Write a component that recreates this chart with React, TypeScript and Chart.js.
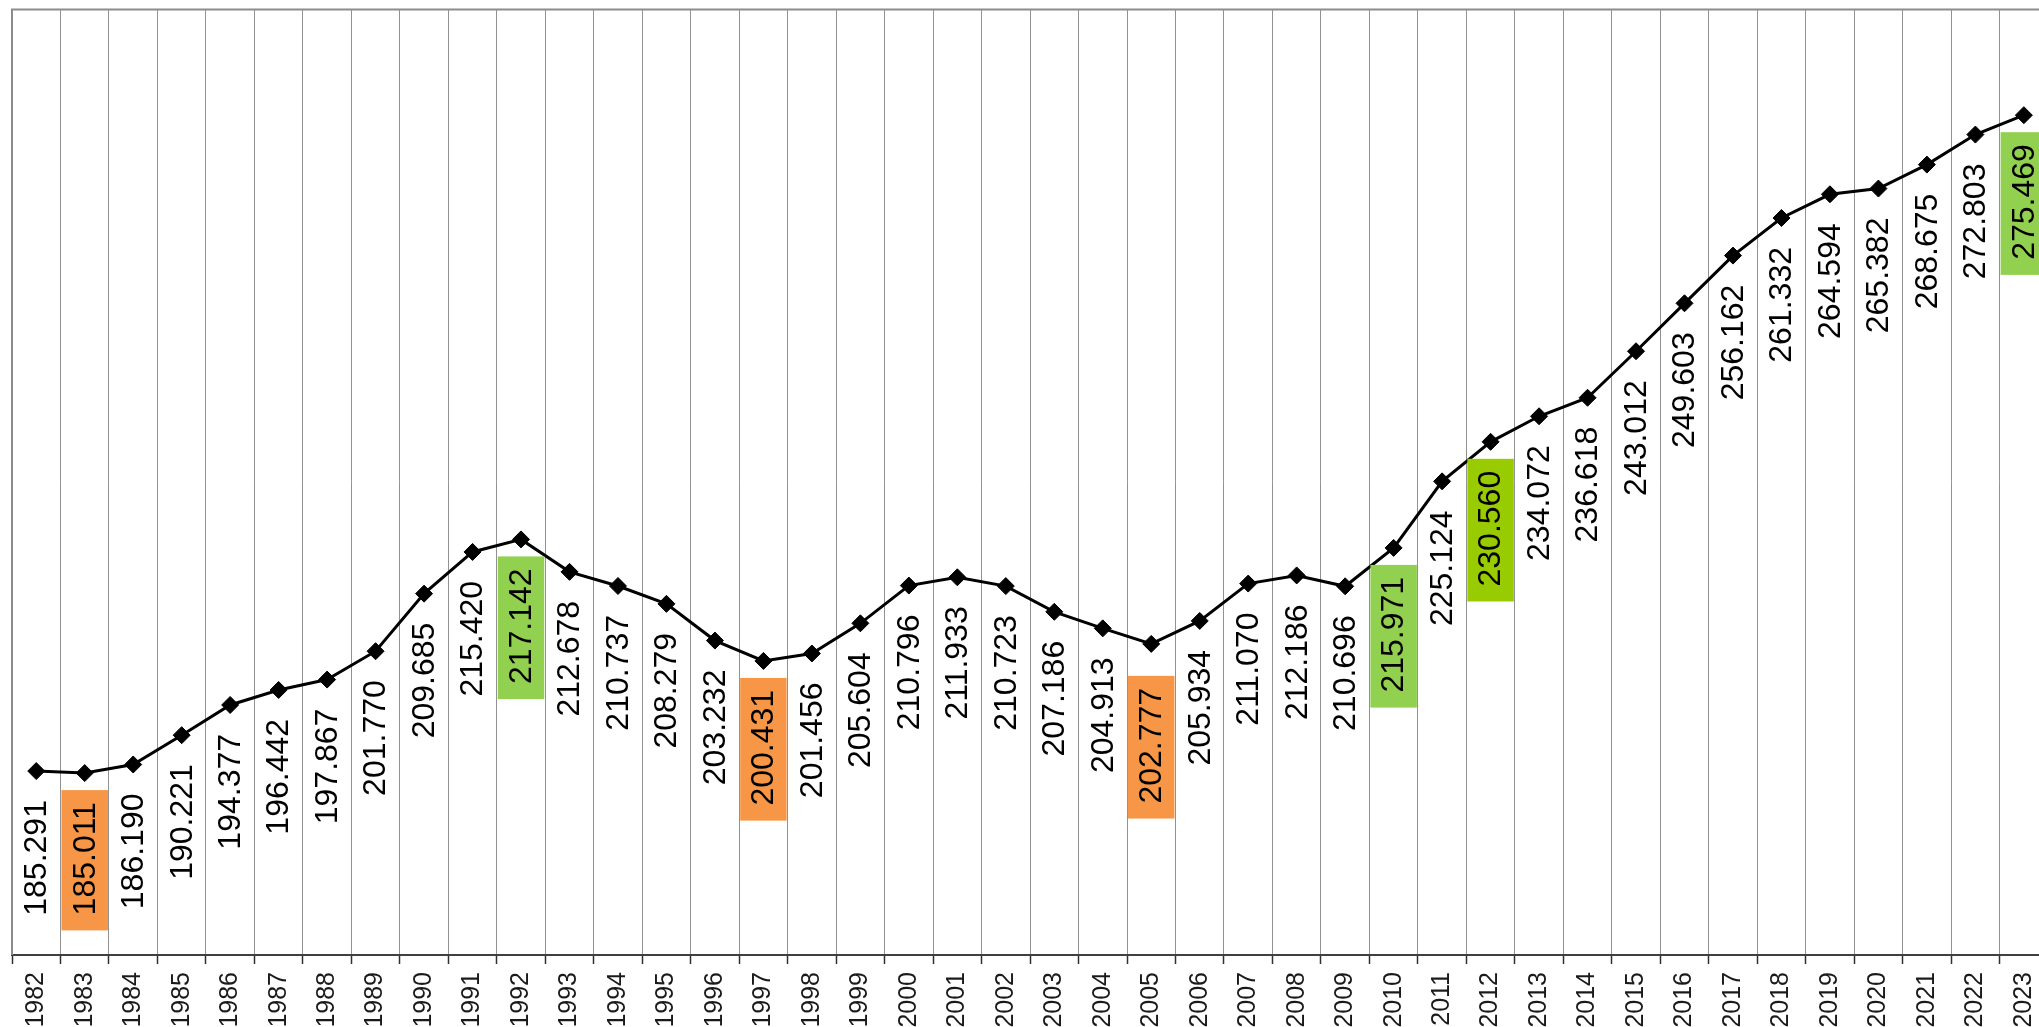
import React, { useEffect, useRef } from "react";
import { Chart, registerables } from "chart.js";

Chart.register(...registerables);

const years = [
  "1982", "1983", "1984", "1985", "1986", "1987", "1988", "1989", "1990", "1991",
  "1992", "1993", "1994", "1995", "1996", "1997", "1998", "1999", "2000", "2001",
  "2002", "2003", "2004", "2005", "2006", "2007", "2008", "2009", "2010", "2011",
  "2012", "2013", "2014", "2015", "2016", "2017", "2018", "2019", "2020", "2021",
  "2022", "2023",
];

const values = [
  185.291, 185.011, 186.19, 190.221, 194.377, 196.442, 197.867, 201.77, 209.685, 215.42,
  217.142, 212.678, 210.737, 208.279, 203.232, 200.431, 201.456, 205.604, 210.796, 211.933,
  210.723, 207.186, 204.913, 202.777, 205.934, 211.07, 212.186, 210.696, 215.971, 225.124,
  230.56, 234.072, 236.618, 243.012, 249.603, 256.162, 261.332, 264.594, 265.382, 268.675,
  272.803, 275.469,
];

const lowYears = ["1983", "1997", "2005"];
const highYears = ["1992", "2010", "2023"];
const peakYears = ["2012"];

const Y_MIN = 160;
const Y_MAX = 290;

const FONT = "'Liberation Sans', Arial, Helvetica, sans-serif";
const ORANGE = "#F79646";
const GREEN = "#92D050";
const DARK_GREEN = "#99CC00";

// style: extra downward shift of some value labels (px)
const LABEL_SHIFT: Record<string, number> = { "2005": 15 };

const CANVAS_W = 2062;
const CANVAS_H = 1027;

const frameAndLabels = {
  id: "frameAndLabels",
  beforeDatasetsDraw(chart: any) {
    const { ctx, chartArea } = chart;
    ctx.save();
    ctx.strokeStyle = "#8c8c8c";
    ctx.lineWidth = 2;
    ctx.beginPath();
    ctx.moveTo(chartArea.left, chartArea.bottom);
    ctx.lineTo(chartArea.left, chartArea.top);
    ctx.lineTo(chartArea.right, chartArea.top);
    ctx.stroke();
    ctx.restore();
  },
  afterDatasetsDraw(chart: any) {
    const ctx = chart.ctx;
    const meta = chart.getDatasetMeta(0);
    const xs = chart.scales.x;
    const band = xs.getPixelForValue(1) - xs.getPixelForValue(0);
    ctx.save();
    ctx.font = `32px ${FONT}`;
    meta.data.forEach((pt: any, i: number) => {
      const label = values[i].toFixed(3);
      const w = ctx.measureText(label).width;
      const year = years[i];
      let bg: string | null = null;
      if (lowYears.includes(year)) bg = ORANGE;
      else if (highYears.includes(year)) bg = GREEN;
      else if (peakYears.includes(year)) bg = DARK_GREEN;
      const shift = LABEL_SHIFT[year] || 0;
      const gap = 29 + shift;
      if (bg) {
        ctx.fillStyle = bg;
        const top = pt.y + 17 + shift;
        const bottom = pt.y + gap + w + 15;
        ctx.fillRect(pt.x - band / 2 + 1, top, band - 2, bottom - top);
      }
      ctx.save();
      ctx.translate(pt.x, pt.y);
      ctx.rotate(-Math.PI / 2);
      ctx.textAlign = "right";
      ctx.textBaseline = "middle";
      ctx.fillStyle = "#000";
      ctx.fillText(label, -gap, 1);
      ctx.restore();
    });
    ctx.restore();
  },
};

export default function App() {
  const ref = useRef<HTMLCanvasElement>(null);

  useEffect(() => {
    if (!ref.current) return;
    const chart = new Chart(ref.current, {
      type: "line",
      data: {
        labels: years,
        datasets: [
          {
            data: values,
            borderColor: "#000",
            borderWidth: 3,
            backgroundColor: "#000",
            pointStyle: "rectRot",
            pointRadius: 8.5,
            pointBorderWidth: 1,
            pointBackgroundColor: "#000",
            pointBorderColor: "#000",
            tension: 0,
            fill: false,
          },
        ],
      },
      options: {
        responsive: false,
        devicePixelRatio: 1,
        animation: false,
        events: [],
        layout: { padding: { left: 12, right: 12, top: 5, bottom: 0 } },
        plugins: {
          legend: { display: false },
          tooltip: { enabled: false },
          title: { display: false },
        },
        scales: {
          x: {
            type: "category",
            offset: true,
            grid: {
              offset: true,
              color: "#929292",
              lineWidth: 1,
              tickLength: 9,
              tickColor: "#303030",
              tickWidth: 1.5,
            },
            border: { color: "#404040", width: 2 },
            ticks: {
              autoSkip: false,
              minRotation: 90,
              maxRotation: 90,
              padding: 8,
              color: "#1a1a1a",
              font: { family: FONT, size: 25 },
            },
            afterFit: (scale: any) => {
              scale.height = 72;
            },
          },
          y: {
            display: false,
            min: Y_MIN,
            max: Y_MAX,
          },
        },
      },
      plugins: [frameAndLabels],
    } as any);
    return () => chart.destroy();
  }, []);

  return (
    <div
      style={{
        position: "fixed",
        left: 0,
        top: 0,
        width: "2039px",
        height: "1027px",
        overflow: "hidden",
        background: "#fff",
      }}
    >
      <canvas
        ref={ref}
        width={CANVAS_W}
        height={CANVAS_H}
        style={{ display: "block", width: CANVAS_W + "px", height: CANVAS_H + "px" }}
      />
    </div>
  );
}
